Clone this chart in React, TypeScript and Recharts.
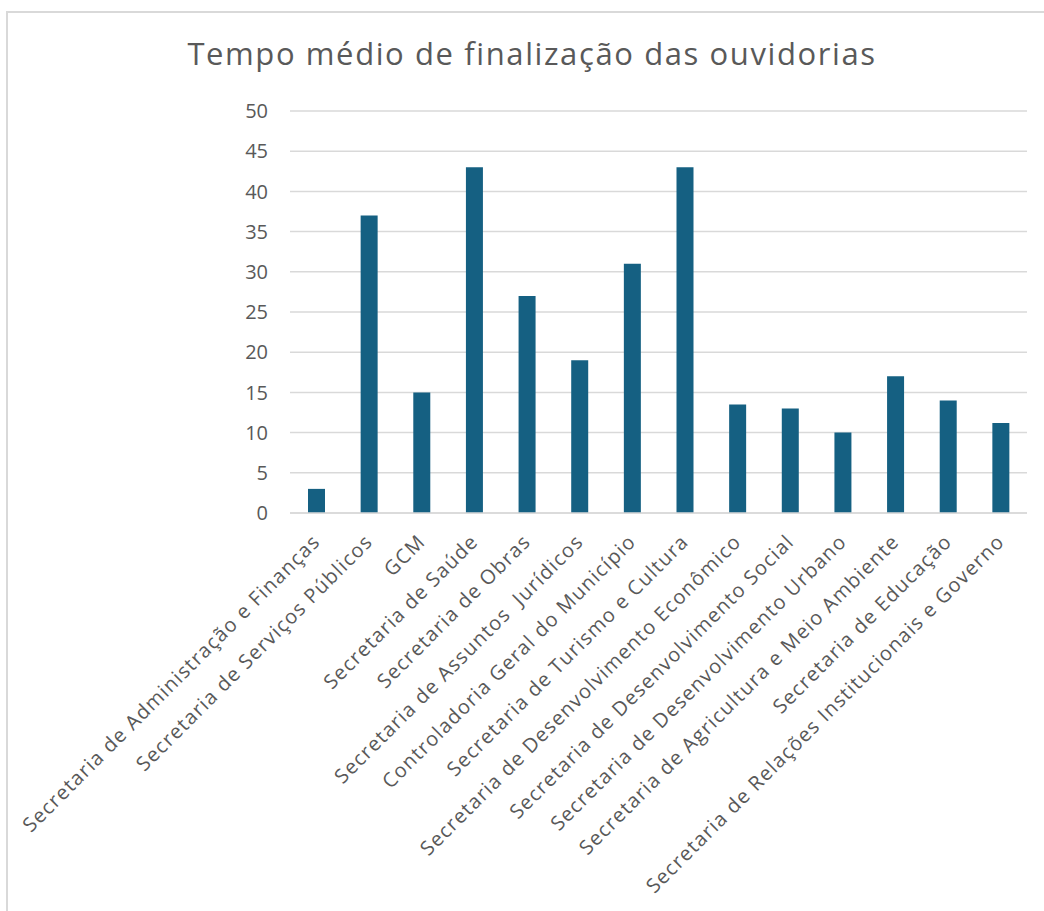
import React from "react";
import { BarChart, Bar, XAxis, YAxis, CartesianGrid } from "recharts";

const categories = [
  "Secretaria de Administração e Finanças",
  "Secretaria de Serviços Públicos",
  "GCM",
  "Secretaria de Saúde",
  "Secretaria de Obras",
  "Secretaria de Assuntos  Jurídicos",
  "Controladoria Geral do Município",
  "Secretaria de Turismo e Cultura",
  "Secretaria de Desenvolvimento Econômico",
  "Secretaria de Desenvolvimento Social",
  "Secretaria de Desenvolvimento Urbano",
  "Secretaria de Agricultura e Meio Ambiente",
  "Secretaria de Educação",
  "Secretaria de Relações Institucionais e Governo",
];

const tempoMedio = [3, 37, 15, 43, 27, 19, 31, 43, 13.5, 13, 10, 17, 14, 11.2];

const yTicks = [0, 5, 10, 15, 20, 25, 30, 35, 40, 45, 50];

const FONT = "'Open Sans', sans-serif";
const TEXT = "#595959";

const data = categories.map((name, i) => ({ name, value: tempoMedio[i] }));

function AngledTick({ x, y, payload }: any) {
  return (
    <g transform={`translate(${x + 5},${y + 30})`}>
      <text
        x={0}
        y={0}
        textAnchor="end"
        transform="rotate(-45)"
        fill={TEXT}
        fontSize={20}
        fontFamily={FONT}
        letterSpacing={1.2}
        style={{ whiteSpace: "pre" }}
      >
        {payload.value}
      </text>
    </g>
  );
}

export default function App() {
  return (
    <div style={{ position: "absolute", left: 0, top: 0, width: 1044, height: 911, overflow: "hidden", background: "#fff" }}>
      <div
        style={{
          position: "absolute",
          left: 6,
          top: 11,
          width: 1038,
          height: 900,
          borderTop: "2px solid #d9d9d9",
          borderLeft: "2px solid #d9d9d9",
          boxSizing: "border-box",
        }}
      />
      <div
        style={{
          position: "absolute",
          left: 0,
          top: 32,
          width: 1064,
          textAlign: "center",
          fontFamily: FONT,
          fontSize: 31,
          letterSpacing: 1.6,
          color: TEXT,
          lineHeight: "normal",
          whiteSpace: "nowrap",
        }}
      >
        Tempo médio de finalização das ouvidorias
      </div>
      <div style={{ position: "absolute", left: 6, top: 11 }}>
        <BarChart
          width={1038}
          height={900}
          data={data}
          margin={{ top: 100, right: 17, bottom: 0, left: 0 }}
          barSize={17}
        >
          <CartesianGrid vertical={false} stroke="#d9d9d9" strokeWidth={1.5} />
          <XAxis
            dataKey="name"
            interval={0}
            height={398}
            tickLine={false}
            tickSize={0}
            tickMargin={0}
            axisLine={{ stroke: "#d9d9d9", strokeWidth: 1.5 }}
            tick={<AngledTick />}
          />
          <YAxis
            width={284}
            domain={[0, 50]}
            ticks={yTicks}
            tickLine={false}
            axisLine={false}
            tickMargin={16}
            tick={{ fill: TEXT, fontSize: 20, fontFamily: FONT }}
          />
          <Bar dataKey="value" fill="#156082" isAnimationActive={false} />
        </BarChart>
      </div>
    </div>
  );
}
